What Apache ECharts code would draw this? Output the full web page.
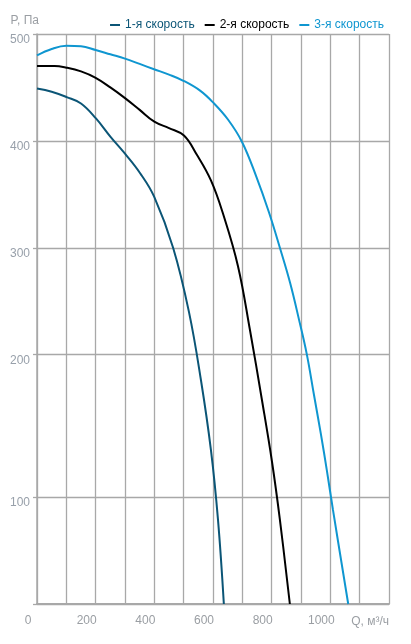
<!DOCTYPE html>
<html>
<head>
<meta charset="utf-8">
<script src="https://cdn.jsdelivr.net/npm/echarts@6/dist/echarts.min.js"></script>
<style>html,body{margin:0;padding:0;background:#fff;}#c{width:411px;height:644px;}</style>
</head>
<body>
<div id="c"></div>
<script>
// Series names
const seriesNames = ['1-я скорость', '2-я скорость', '3-я скорость'];
// Curves: [Q, м³/ч ; P, Па]
const speed1 = [[0,449],[50,446],[101,441],[150,435],[201,421],[250,404],[300,388],[351,370],[399,348],[464,300],[518,240],[559,182],[593,133],[617,79],[637,0]];
const speed2 = [[0,470],[60,470],[100,468.5],[150,465],[200,459],[250,450],[300,440],[350,429],[400,418],[450,412],[501,405],[545,387],[593,363],[634,332],[685,283],[726,223],[767,168],[801,125],[828,79],[862,0]];
const speed3 = [[0,480],[50,486],[100,489],[150,488.5],[200,485],[250,481],[300,477],[350,472],[399,467],[450,462],[501,456],[556,447],[600,436],[651,420],[699,399],[747,367],[791,333],[828,300],[863,267],[893,233],[920,200],[944,172],[968,144],[988,119],[1009,88],[1061,0]];
// Pressure tick labels and their (uneven) positions on the printed grid (grid rows from bottom)
const pTicks = [0, 100, 200, 300, 400, 500];
const pTickRows = [0, 3, 7, 10, 13, 16];
const qTicks = [0, 200, 400, 600, 800, 1000];
const colors = ['#0b5576', '#000000', '#0f96d0'];

// piecewise scale from Pa to grid rows (the printed axis is not uniform)
function toRow(p) {
  for (let i = 1; i < pTicks.length; i++) {
    if (p <= pTicks[i]) {
      const t = (p - pTicks[i-1]) / (pTicks[i] - pTicks[i-1]);
      return pTickRows[i-1] + t * (pTickRows[i] - pTickRows[i-1]);
    }
  }
  return pTickRows[pTickRows.length-1];
}
const rowLabel = {};
pTickRows.forEach((r, i) => { rowLabel[r] = String(pTicks[i]); });

const font = "'Liberation Sans', Arial, sans-serif";
const chart = echarts.init(document.getElementById('c'));
const datasets = [speed1, speed2, speed3];
chart.setOption({
  animation: false,
  textStyle: { fontFamily: font },
  legend: {
    right: 22, top: 14, itemGap: 10, itemWidth: 10, itemHeight: 2, icon: 'rect',
    textStyle: { fontSize: 12, fontFamily: font },
    data: seriesNames.map((n, i) => ({ name: n, textStyle: { color: colors[i] } }))
  },
  grid: { left: 37, right: 22, top: 34, bottom: 40 },
  xAxis: {
    type: 'value', min: 0, max: 1200, interval: 100,
    name: 'Q, м³/ч', nameLocation: 'end', nameGap: 0,
    nameTextStyle: { color: '#9a9ea3', fontSize: 12, align: 'right', verticalAlign: 'top', padding: [12, 0, 0, 0] },
    axisLine: { show: true, onZero: false, lineStyle: { color: '#a8a8a8', width: 2 } },
    axisTick: { show: false },
    splitLine: { show: true, lineStyle: { color: '#a8a8a8', width: 1.3 } },
    axisLabel: {
      color: '#9a9ea3', fontSize: 12, margin: 11, padding: [0, 18, 0, 0],
      customValues: qTicks,
      formatter: v => String(v)
    }
  },
  yAxis: {
    type: 'value', min: 0, max: 16, interval: 1,
    name: 'P, Па', nameLocation: 'end', nameGap: 13,
    nameTextStyle: { color: '#9a9ea3', fontSize: 12, align: 'right', verticalAlign: 'middle', padding: [0, -2, 0, 0] },
    axisLine: { show: true, lineStyle: { color: '#a8a8a8', width: 1.5 } },
    axisTick: { show: true, length: 4, customValues: pTickRows, lineStyle: { color: '#a8a8a8', width: 1.3 } },
    splitLine: { show: true, lineStyle: { color: '#a8a8a8', width: 1.3 } },
    axisLabel: {
      color: '#98a0aa', fontSize: 12, margin: 7, verticalAlign: 'top',
      customValues: pTickRows.slice(1),
      formatter: v => rowLabel[v] || ''
    }
  },
  series: datasets.map((d, i) => ({
    name: seriesNames[i], type: 'line', showSymbol: false, symbol: 'none',
    smooth: 0.4,
    lineStyle: { color: colors[i], width: 2 },
    itemStyle: { color: colors[i] },
    data: d.map(p => [p[0], toRow(p[1])])
  }))
});
</script>
</body>
</html>
